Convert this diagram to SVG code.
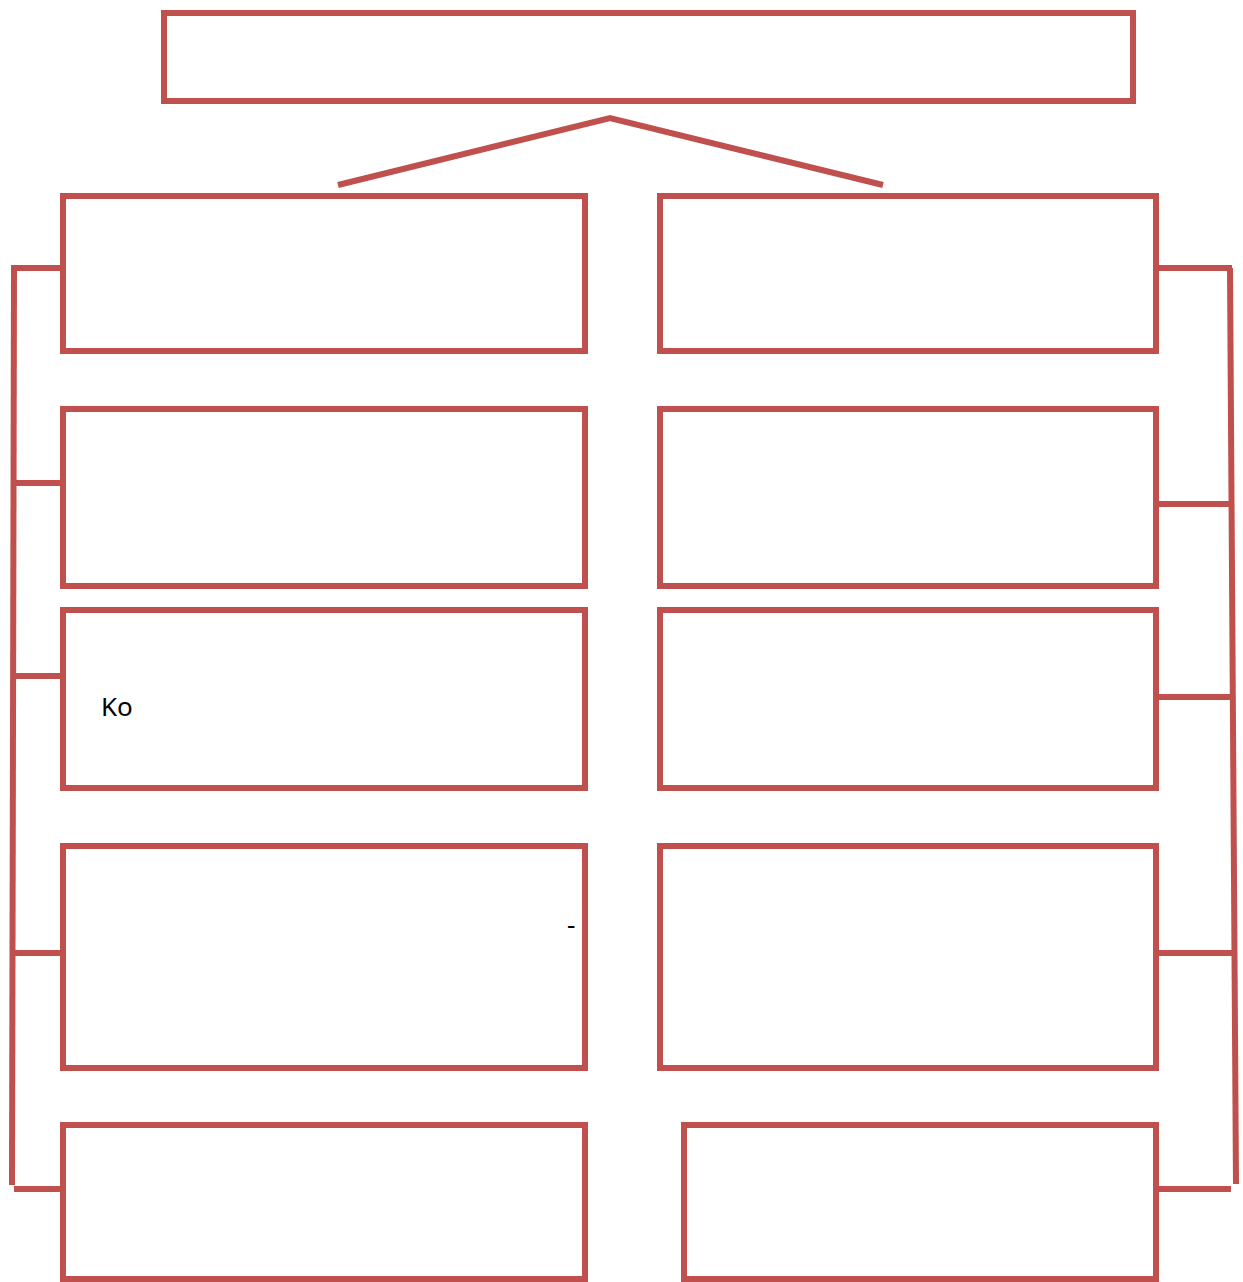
<svg xmlns="http://www.w3.org/2000/svg" width="1243" height="1282" viewBox="0 0 1243 1282">
<style>
.box{fill:#fff;stroke:#C0504D;stroke-width:6}
.ln{fill:none;stroke:#C0504D;stroke-width:6}
.t{font-family:"Noto Sans","Liberation Sans",sans-serif;font-size:26px;fill:#000}
</style>
<rect width="1243" height="1282" fill="#fff"/>
<g id="connectors">
<polyline class="ln" points="338,185 610,118 883,185"/>
<line class="ln" x1="14" y1="268" x2="12" y2="1185"/>
<line class="ln" x1="11" y1="268" x2="63" y2="268"/>
<line class="ln" x1="14" y1="483" x2="63" y2="483"/>
<line class="ln" x1="14" y1="676" x2="63" y2="676"/>
<line class="ln" x1="14" y1="953" x2="63" y2="953"/>
<line class="ln" x1="14" y1="1189" x2="63" y2="1189"/>
<line class="ln" x1="1230" y1="268" x2="1236" y2="1184"/>
<line class="ln" x1="1156" y1="268" x2="1232" y2="268"/>
<line class="ln" x1="1156" y1="504" x2="1231" y2="504"/>
<line class="ln" x1="1156" y1="697" x2="1231" y2="697"/>
<line class="ln" x1="1156" y1="953" x2="1232" y2="953"/>
<line class="ln" x1="1156" y1="1189" x2="1231" y2="1189"/>
</g>
<g id="top"><rect class="box" x="164" y="13" width="969" height="88"/></g>
<g id="l1"><rect class="box" x="63" y="196" width="522" height="155"/></g>
<g id="l2"><rect class="box" x="63" y="409" width="522" height="177"/></g>
<g id="l3"><rect class="box" x="63" y="610" width="522" height="178"/><text class="t" x="101" y="716">Ko</text></g>
<g id="l4"><rect class="box" x="63" y="846" width="522" height="222"/><text class="t" x="567" y="934">-</text></g>
<g id="l5"><rect class="box" x="63" y="1125" width="522" height="154"/></g>
<g id="r1"><rect class="box" x="660" y="196" width="496" height="155"/></g>
<g id="r2"><rect class="box" x="660" y="409" width="496" height="177"/></g>
<g id="r3"><rect class="box" x="660" y="610" width="496" height="178"/></g>
<g id="r4"><rect class="box" x="660" y="846" width="496" height="222"/></g>
<g id="r5"><rect class="box" x="684" y="1125" width="472" height="154"/></g>
</svg>
